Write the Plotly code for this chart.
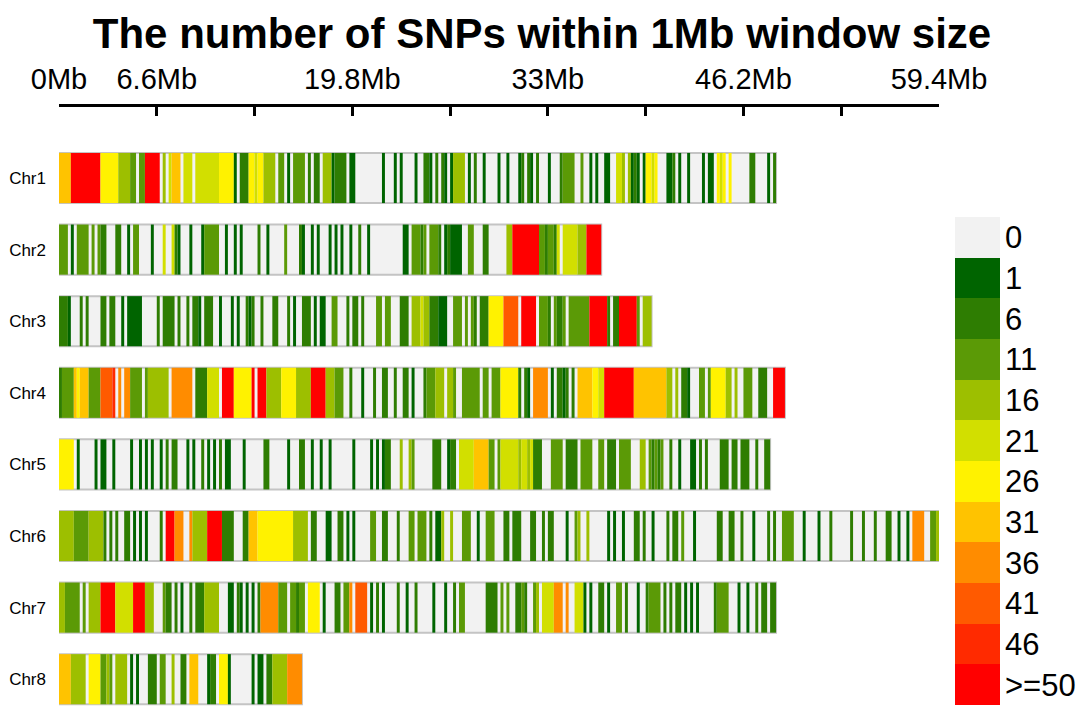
import plotly.graph_objects as go

# SNP density per 0.2Mb bin, one string per chromosome
# '.' = no SNP, '1'..'9','a','b' = legend classes 1,6,11,...,46,>=50
chroms = ["Chr1", "Chr2", "Chr3", "Chr4", "Chr5", "Chr6", "Chr7", "Chr8"]
chrom_len_mb = [48.4, 36.6, 40.0, 49.0, 48.0, 59.4, 48.4, 16.4]
bin_mb = 0.2

chr1 = ("7777bbbbbb bbbb666666 444433.33b bbbb.4.577 7.555.5555 5555666661 "
        ".222665664 444.33.1.3 333.2.22.4 4412222.11 .........1 ...1.1.... "
        "1..221.2.2 1.14444.1. 2..1....1. .1...12.21 .2...1...2 3333..3..1 "
        ".1..11..55 4.4121.166 56...112.1 ..1....1.1 1.656.6... ...22....1 .2")
chr2 = ("333.1.3333 .3.322...2 2..1.33... .1...5..52 1...1...13 3333..1..1 "
        ".1.....2.. 1.....3... .21..1.1.. .1.1.1..1. .2..1..... ......11.3 "
        "3323.3332. 121111..33 ...22..... .44bbbbbbb bb3323325. 55555444bb bbb")
chr3 = ("2221...2.2 ....22.22. .1.11111.. ...2.2222. 2..2.221.2 22..1...1. "
        "1..212..2. ..22...2.1 ..222.1.11 ..33...2.2 2.2....33. 33...222.4 "
        "4454422211 1..333.3.3 2.22266666 99999.bbbb b.3332.322 3.3333333b "
        "bbbbb2.22b bbbbb3.444")
chr4 = ("2333376777 33339999a. 8.883333.3 4444444.88 88888.2222 5555.bbbb6 "
        "66666b.bbb 4444466666 44444bbbbb 444333..2. ..1...2..2 2..2..22.1 "
        "...2333444 .443..3333 33.33.3336 666662.21. 88888.1.22 12.2.77777 "
        "6655bbbbbb bbbb777777 7777744.4. 221...33.3 6666644.4. .333..222. .bbbb")
chr5 = ("66666.1... ..1.11..1. ....1..1.1 .1..1.2.22 ...1.1..2. 1.1.2.11.. "
        "..1......2 2......1.. .22..1..1. .1.......1 .....1.1.1 22...4..43 "
        "......222. .122.55555 7777733.35 5555545545 222...3333 .2222.3333 "
        "..33.222.3 333...44.3 2323..2..1 ...11.2.2. ...222.22. 222..2..22")
chr6 = ("4444433333 444442.2.2 ..22.1.1.1 ....2.bbb8 88..844444 bbbbb2222. "
        "..22777666 6666666664 4444.22... 11..22.1.1 .....33..2 2...2...33 "
        ".333.2.114 ..4...333. .1..333... 22.222...2 2..2.22... .1..34..4. "
        ".....1.1.. 1...22.2.. 1....2.22. 3...1..... ..22..22.. 2...1....2 "
        ".2..3333.. .1....1... 2......2.. .2...2...2 2..1..1.88 88..334")
chr7 = ("4433333.3. 4444bbbbb5 55555bbbb4 44...322.2 .1..2.2224 4444...11. "
        "21.1.1.288 8888333.33 233.6666.1 ...22.338. 9999.1.2.1 ....2..1.. "
        "2.....1... 1..2.33... ....2222.3 .3..2232.. 34.5555888 .8..5551.1 "
        "..22.1..33 .2...1..23 333.2.2.22 .1.1.1.... .23333...1 ..1..2.22. 22")
chr8 = ("777744444. 66663343.4 444.1.1... 222.33..4. .22.777... 122.6661.. "
        ".....1.11. 2244444888 88")
density = [chr1, chr2, chr3, chr4, chr5, chr6, chr7, chr8]

legend_labels = ["0", "1", "6", "11", "16", "21", "26", "31", "36", "41", "46", ">=50"]
legend_colors = ["#F2F2F2", "#006400", "#2E7D02", "#5B9A06", "#9DBF00", "#D2DF00",
                 "#FFF200", "#FFC300", "#FF8C00", "#FF5A00", "#FF2A00", "#FF0000"]
level_chars = ".123456789ab"

# turn bin strings into runs of equal class
seg_row, seg_start, seg_len, seg_col = [], [], [], []
for row, s in enumerate(density):
    s = s.replace(" ", "")
    n = int(round(chrom_len_mb[row] / bin_mb))
    s = (s + "." * n)[:n]
    i = 0
    while i < len(s):
        j = i
        while j < len(s) and s[j] == s[i]:
            j += 1
        lvl = level_chars.index(s[i])
        if lvl > 0:
            seg_row.append(row)
            seg_start.append(i * bin_mb)
            seg_len.append((j - i) * bin_mb)
            seg_col.append(legend_colors[lvl])
        i = j

fig = go.Figure()

fig.add_trace(go.Bar(
    y=list(range(len(chroms))), x=chrom_len_mb, base=[0] * len(chroms),
    orientation="h", width=0.70,
    marker=dict(color="#F2F2F2", line=dict(color="#C4C4C4", width=2)),
    hoverinfo="skip", showlegend=False))

fig.add_trace(go.Bar(
    y=seg_row, x=seg_len, base=seg_start, orientation="h", width=0.70,
    marker=dict(color=seg_col, line=dict(width=0)),
    hoverinfo="skip", showlegend=False))

fig.add_trace(go.Heatmap(
    z=[[k] for k in range(len(legend_labels))], x=[0], y=legend_labels,
    zmin=0, zmax=len(legend_labels) - 1,
    colorscale=[[k / (len(legend_colors) - 1), c] for k, c in enumerate(legend_colors)],
    showscale=False, xaxis="x2", yaxis="y2", hoverinfo="skip"))

# page body adds an 8px offset, so the figure is laid out 8px smaller
OFF = 8
W, H = 1086 - OFF, 712 - OFF
ml, mt = 59 - OFF, 107 - OFF
pw, ph = W - ml, H - mt

tick_vals = [6.6 * k for k in range(10)]
tick_text = ["0Mb", "6.6Mb", "", "19.8Mb", "", "33Mb", "", "46.2Mb", "", "59.4Mb"]

fig.update_layout(
    width=W, height=H,
    margin=dict(l=ml, r=0, t=mt, b=0, autoexpand=False),
    paper_bgcolor="white", plot_bgcolor="white",
    barmode="overlay",
    font=dict(family="Liberation Sans, Arial, sans-serif", color="black"),
    title=dict(text="<b>The number of SNPs within 1Mb window size</b>",
               x=(542 - OFF) / W, xanchor="center", xref="container",
               y=1 - 25 / H, yanchor="middle", yref="container",
               font=dict(size=42, color="black")),
    xaxis=dict(domain=[0, 880 / pw], range=[0, 59.4], side="top",
               automargin=False, showgrid=False, zeroline=False,
               showline=True, linecolor="black", linewidth=3,
               tickmode="array", tickvals=tick_vals, ticktext=tick_text,
               ticks="inside", ticklen=9, tickwidth=3, tickcolor="black",
               tickfont=dict(size=29), ticklabelstandoff=3),
    yaxis=dict(domain=[0, 1], range=[ph / 71.6 - 0.9916, -0.9916],
               automargin=False, showgrid=False, zeroline=False, showline=False,
               tickmode="array", tickvals=list(range(len(chroms))), ticktext=chroms,
               ticks="", tickfont=dict(size=17), ticklabelstandoff=12),
    xaxis2=dict(domain=[(955 - 59) / pw, (1000 - 59) / pw], anchor="y2",
                automargin=False, visible=False),
    yaxis2=dict(domain=[(712 - 705) / ph, (712 - 217) / ph], anchor="x2",
                side="right", autorange="reversed", type="category",
                automargin=False, showgrid=False, zeroline=False, showline=False,
                ticks="", tickfont=dict(size=31), ticklabelstandoff=4),
)

fig.write_html("out.html")
